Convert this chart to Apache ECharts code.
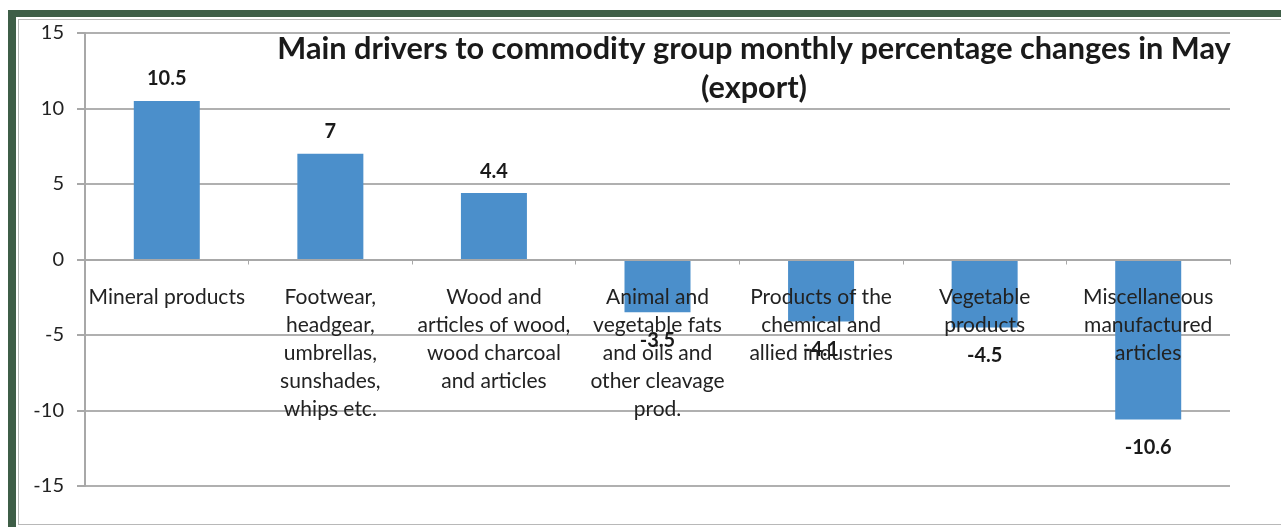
<!DOCTYPE html>
<html>
<head>
<meta charset="utf-8">
<script src="https://cdn.jsdelivr.net/npm/echarts@6/dist/echarts.min.js"></script>
<style>
  html, body { margin: 0; padding: 0; background: #fff; overflow: hidden; }
  /* dark green frame round the chart */
  #frame { position: absolute; left: 8px; top: 10px; width: 1300px; height: 540px;
    border-left: 8px solid #3e5e47; border-top: 7px solid #3e5e47; }
  #inner { position: absolute; left: 18px; top: 19px; width: 1300px; height: 504px;
    border: 1px solid #b8b8b8; border-right: none; }
  #main { position: absolute; left: 0; top: 0; width: 1281px; height: 527px; }
</style>
</head>
<body>
<div id="frame"></div>
<div id="inner"></div>
<div id="main"></div>
<script>
  // categories (line breaks as in the original chart)
  var categories = [
    'Mineral products',
    'Footwear,\nheadgear,\numbrellas,\nsunshades,\nwhips etc.',
    'Wood and\narticles of wood,\nwood charcoal\nand articles',
    'Animal and\nvegetable fats\nand oils and\nother cleavage\nprod.',
    'Products of the\nchemical and\nallied industries',
    'Vegetable\nproducts',
    'Miscellaneous\nmanufactured\narticles'
  ];
  // monthly percentage change
  var values = [10.5, 7, 4.4, -3.5, -4.1, -4.5, -10.6];
  var yTicks = [-15, -10, -5, 0, 5, 10, 15];

  var font = 'Lato, "Open Sans", sans-serif';
  var gridTop = 33, gridBottom = 41, plotH = 527 - gridTop - gridBottom;
  // the category axis sits on the zero line: move it up from the plot bottom
  var zeroShift = plotH * (0 - yTicks[0]) / (yTicks[yTicks.length - 1] - yTicks[0]);

  var myChart = echarts.init(document.getElementById('main'));

  myChart.setOption({
    backgroundColor: 'transparent',
    animation: false,
    title: {
      text: 'Main drivers to commodity group monthly percentage changes in May\n(export)',
      left: 749,
      top: 25,
      textAlign: 'center',
      textStyle: { fontFamily: font, fontSize: 30.7, fontWeight: 'bold', color: '#1a1a1a', lineHeight: 39 }
    },
    grid: { left: 85, right: 51, top: gridTop, bottom: gridBottom, containLabel: false, outerBoundsMode: 'none' },
    xAxis: {
      type: 'category',
      data: categories,
      z: 3, // labels drawn over the bars, as in the original
      offset: -zeroShift,
      axisLine: { onZero: false, lineStyle: { color: '#a8a8a8', width: 2 } },
      axisTick: { show: true, length: 5, lineStyle: { color: '#a8a8a8' } },
      axisLabel: {
        interval: 0, margin: 24, lineHeight: 28,
        fontFamily: font, fontSize: 21, color: '#222'
      }
    },
    yAxis: {
      type: 'value',
      min: yTicks[0],
      max: yTicks[yTicks.length - 1],
      interval: 5,
      axisLine: { show: true, lineStyle: { color: '#a8a8a8', width: 2 } },
      axisTick: { show: true, length: 8, lineStyle: { color: '#a8a8a8', width: 2 } },
      splitLine: { lineStyle: { color: '#b0b0b0', width: 2 } },
      axisLabel: { margin: 21, fontFamily: font, fontSize: 20, color: '#222' }
    },
    series: [{
      type: 'bar',
      barWidth: 66,
      itemStyle: { color: '#4b8fcb' },
      data: values.map(function (v) {
        return {
          value: v,
          label: { position: v >= 0 ? 'top' : 'bottom', distance: v >= 0 ? 12 : 18 }
        };
      }),
      label: {
        show: true,
        fontFamily: font, fontSize: 20, fontWeight: 'bold', color: '#1a1a1a'
      }
    }]
  });
</script>
</body>
</html>
